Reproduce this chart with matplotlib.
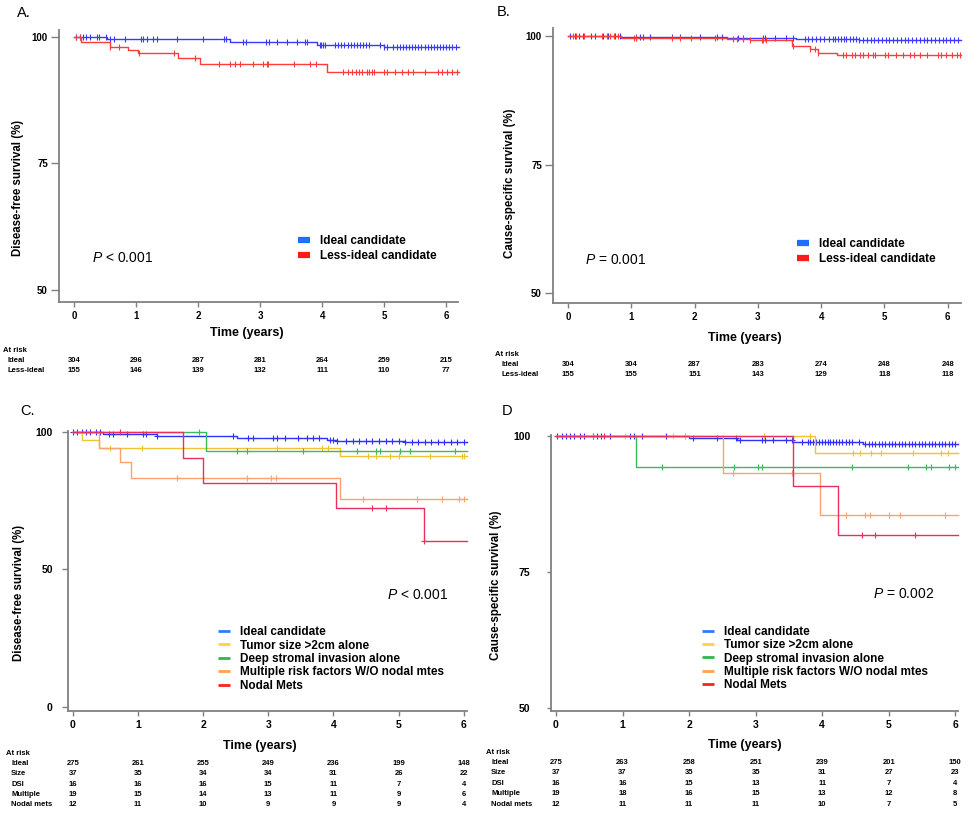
import numpy as np
import matplotlib
matplotlib.use("Agg")
import matplotlib.pyplot as plt
import matplotlib.transforms as mtransforms
from matplotlib.lines import Line2D

plt.rcParams['font.family'] = ['Liberation Sans', 'DejaVu Sans']
plt.rcParams['font.weight'] = 'bold'
plt.rcParams['axes.labelweight'] = 'bold'
plt.rcParams['mathtext.fontset'] = 'custom'
plt.rcParams['mathtext.it'] = 'Liberation Sans:italic:weight=normal'
plt.rcParams['mathtext.rm'] = 'Liberation Sans:weight=normal'

# ---------------- Panel A: disease-free survival, 2 groups ----------------
a_ideal_t = [0, 0.53, 2.52, 3.91, 4.99, 6.2]
a_ideal_s = [100, 99.6, 99.0, 98.5, 98.1, 98.1]
a_ideal_cens = [0.03, 0.1, 0.14, 0.19, 0.25, 0.37, 0.4, 0.52, 0.58, 0.65, 0.82, 1.08, 1.11,
                1.18, 1.27, 1.33, 1.66, 2.08, 2.42, 2.45, 2.72, 2.78, 3.1, 3.14, 3.27, 3.43,
                3.59, 3.72, 3.76, 3.96, 3.98, 4.01, 4.05, 4.21, 4.26, 4.31, 4.36, 4.41, 4.46,
                4.51, 4.56, 4.61, 4.66, 4.71, 4.76, 4.94, 4.99, 5.04, 5.15, 5.2, 5.25, 5.3,
                5.35, 5.4, 5.45, 5.5, 5.55, 5.6, 5.65, 5.7, 5.75, 5.8, 5.85, 5.9, 5.95, 6.0,
                6.05, 6.1, 6.15]
a_less_t = [0, 0.12, 0.58, 0.87, 1.03, 1.68, 2.03, 4.08, 6.2]
a_less_s = [100, 99.0, 98.1, 97.4, 96.8, 95.8, 94.6, 93.0, 93.0]
a_less_cens = [0.04, 0.1, 0.58, 0.72, 1.05, 1.61, 1.95, 2.33, 2.52, 2.6, 2.67, 2.88, 3.04,
               3.11, 3.13, 3.54, 3.81, 3.9, 4.34, 4.42, 4.48, 4.54, 4.6, 4.65, 4.72, 4.75,
               4.8, 4.83, 4.99, 5.04, 5.18, 5.28, 5.39, 5.47, 5.65, 5.86, 5.93, 6.01, 6.09,
               6.17]

# ---------------- Panel B: cause-specific survival, 2 groups ----------------
b_ideal_t = [0, 0.84, 2.52, 3.6, 4.6, 6.21]
b_ideal_s = [100, 99.85, 99.6, 99.4, 99.2, 99.2]
b_ideal_cens = [0.03, 0.11, 0.18, 0.24, 0.37, 0.42, 0.55, 0.63, 0.74, 0.82, 1.08, 1.13,
                1.19, 1.29, 1.65, 1.77, 2.08, 2.35, 2.44, 2.69, 2.77, 3.08, 3.12, 3.27,
                3.45, 3.56, 3.75, 3.8, 3.86, 3.92, 3.98, 4.05, 4.12, 4.18, 4.22, 4.27,
                4.31, 4.36, 4.4, 4.45, 4.5, 4.55, 4.6, 4.66, 4.72, 4.78, 4.84, 4.9, 4.96,
                5.02, 5.08, 5.14, 5.2, 5.26, 5.32, 5.38, 5.44, 5.5, 5.56, 5.62, 5.68,
                5.74, 5.8, 5.86, 5.92, 5.98, 6.04, 6.1, 6.16]
b_less_t = [0, 0.84, 2.52, 2.87, 3.54, 3.82, 3.95, 4.25, 6.21]
b_less_s = [100, 99.75, 99.4, 99.2, 98.05, 97.6, 96.8, 96.25, 96.25]
b_less_cens = [0.08, 0.13, 0.26, 0.53, 0.61, 0.66, 0.72, 0.79, 1.04, 1.08, 1.64, 1.77,
               1.95, 2.32, 2.61, 2.67, 2.77, 2.87, 3.06, 3.08, 3.13, 3.56, 3.82, 3.9,
               3.95, 4.35, 4.4, 4.48, 4.53, 4.61, 4.66, 4.74, 4.82, 4.85, 5.01, 5.06,
               5.19, 5.3, 5.4, 5.46, 5.56, 5.67, 5.85, 5.9, 5.98, 6.06, 6.14, 6.19]

# ---------------- Panel C: disease-free survival, 5 groups ----------------
c_ideal_t = [0, 0.47, 1.29, 2.52, 3.9, 4.05, 5.1, 6.05]
c_ideal_s = [100, 99.3, 98.7, 98.0, 97.3, 96.7, 96.4, 96.4]
c_ideal_cens = [0.0, 0.07, 0.14, 0.2, 0.27, 0.36, 0.42, 0.55, 0.62, 0.83, 1.08, 1.13, 1.29,
                2.46, 2.69, 2.77, 3.08, 3.13, 3.26, 3.46, 3.59, 3.69, 3.78, 3.95, 4.0,
                4.05, 4.2, 4.3, 4.4, 4.5, 4.6, 4.7, 4.8, 4.9, 5.0, 5.1, 5.2, 5.3, 5.4,
                5.5, 5.6, 5.7, 5.8, 5.9, 6.0]
c_size_t = [0, 0.14, 0.41, 4.1, 6.05]
c_size_s = [100, 97.2, 94.4, 91.3, 91.3]
c_size_cens = [0.57, 1.06, 3.13, 3.82, 3.92, 4.53, 4.66, 4.87, 5.0, 5.48, 5.97, 6.0]
c_dsi_t = [0, 2.04, 6.05]
c_dsi_s = [100, 93.2, 93.2]
c_dsi_cens = [1.94, 2.52, 2.67, 3.54, 4.36, 4.66, 4.72, 5.02, 5.18, 5.86]
c_mult_t = [0, 0.41, 0.73, 0.89, 4.1, 6.05]
c_mult_s = [100, 94.4, 89.1, 83.5, 75.8, 75.8]
c_mult_cens = [1.6, 2.68, 3.05, 3.12, 4.46, 5.29, 5.66, 5.92, 6.0]
c_nodal_t = [0, 1.69, 2.0, 4.04, 5.39, 6.05]
c_nodal_s = [100, 90.7, 81.6, 72.5, 60.4, 60.4]
c_nodal_cens = [0.73, 4.6, 4.81, 5.39]

# ---------------- Panel D: cause-specific survival, 5 groups ----------------
d_ideal_t = [0, 2.0, 2.72, 3.56, 4.61, 6.04]
d_ideal_s = [100, 99.6, 99.2, 98.9, 98.5, 98.5]
d_ideal_cens = [0.02, 0.09, 0.15, 0.21, 0.27, 0.36, 0.42, 0.55, 0.61, 0.67, 0.81, 1.11,
                1.17, 1.29, 1.66, 2.06, 2.42, 2.71, 2.77, 3.1, 3.14, 3.26, 3.46, 3.54,
                3.7, 3.78, 3.82, 3.86, 3.9, 3.95, 4.0, 4.04, 4.08, 4.12, 4.16, 4.2, 4.25,
                4.3, 4.35, 4.4, 4.45, 4.55, 4.65, 4.7, 4.75, 4.8, 4.85, 4.9, 4.95, 5.0,
                5.05, 5.1, 5.15, 5.2, 5.25, 5.3, 5.35, 5.4, 5.45, 5.5, 5.55, 5.6, 5.65,
                5.7, 5.75, 5.8, 5.85, 5.9, 5.95, 6.0]
d_size_t = [0, 3.89, 6.04]
d_size_s = [100, 96.9, 96.9]
d_size_cens = [1.04, 1.76, 1.94, 3.12, 3.81, 4.46, 4.57, 4.74, 4.89, 5.36, 5.79, 5.89]
d_dsi_t = [0, 1.2, 6.04]
d_dsi_s = [100, 94.35, 94.35]
d_dsi_cens = [0.56, 1.6, 2.68, 3.04, 3.1, 4.44, 5.29, 5.56, 5.64, 5.91, 6.0]
d_mult_t = [0, 2.51, 3.97, 6.04]
d_mult_s = [100, 93.25, 85.45, 85.45]
d_mult_cens = [1.94, 2.66, 3.54, 4.35, 4.65, 4.72, 5.01, 5.17, 5.85]
d_nodal_t = [0, 3.56, 4.24, 6.04]
d_nodal_s = [100, 90.8, 81.8, 81.8]
d_nodal_cens = [0.72, 4.6, 4.8, 5.4]

# ---------------- number-at-risk tables ----------------
risk_times = [0, 1, 2, 3, 4, 5, 6]
ab_rows = ["Ideal", "Less-ideal"]
a_risk = [[304, 296, 287, 281, 264, 259, 215],
          [155, 146, 139, 132, 111, 110, 77]]
b_risk = [[304, 304, 287, 283, 274, 248, 248],
          [155, 155, 151, 143, 129, 118, 118]]
cd_rows = ["Ideal", "Size", "DSI", "Multiple", "Nodal mets"]
c_risk = [[275, 261, 255, 249, 236, 199, 148],
          [37, 35, 34, 34, 31, 26, 22],
          [16, 16, 16, 15, 11, 7, 4],
          [19, 15, 14, 13, 11, 9, 6],
          [12, 11, 10, 9, 9, 9, 4]]
d_risk = [[275, 263, 258, 251, 239, 201, 150],
          [37, 37, 35, 35, 31, 27, 23],
          [16, 16, 15, 13, 11, 7, 4],
          [19, 18, 16, 15, 13, 12, 8],
          [12, 11, 11, 11, 10, 7, 5]]

ab_labels = ["Ideal candidate", "Less-ideal candidate"]
cd_labels = ["Ideal candidate", "Tumor size >2cm alone", "Deep stromal invasion alone",
             "Multiple risk factors W/O nodal mtes", "Nodal Mets"]

ab_line_colors = ["#3a3aff", "#ff3c3c"]
ab_leg_colors = ["#1f6fff", "#ff1a1a"]
cd_line_colors = ["#3030ff", "#f0c234", "#3dba5c", "#ffa070", "#e8305a"]
cd_leg_colors = ["#2e7bff", "#ffd23f", "#2db84d", "#ffa24d", "#ff1f1f"]

W, H = 969, 813
fig = plt.figure(figsize=(W / 100, H / 100), dpi=100)


def px_box(left, top, right, bottom):
    return [left / W, 1 - bottom / H, (right - left) / W, (bottom - top) / H]


def draw_curve(ax, times, surv, cens, color, marker, ms):
    times = np.array(times)
    surv = np.array(surv)
    ax.step(times, surv, where='post', color=color, lw=1.0, clip_on=False)
    idx = np.searchsorted(times, cens, side='right') - 1
    ax.plot(cens, surv[idx], ls='none', marker=marker, color=color, ms=ms, mew=0.8,
            clip_on=False)


def style_axes(ax, xlim, ylim, yticks, tsize, ylen, ypad, ylabel):
    ax.set_xlim(*xlim)
    ax.set_ylim(*ylim)
    ax.set_xticks(risk_times)
    ax.set_yticks(yticks)
    for side in ['top', 'right']:
        ax.spines[side].set_visible(False)
    for side in ['left', 'bottom']:
        ax.spines[side].set_color('#808080')
        ax.spines[side].set_linewidth(1.3)
    ax.tick_params(axis='x', length=3.5, width=1, color='#808080', pad=3, labelsize=tsize)
    ax.tick_params(axis='y', length=ylen, width=1, color='#808080', pad=ypad, labelsize=tsize)
    ax.set_ylabel(ylabel, fontsize=8.3, fontweight='bold')
    ax.set_xlabel("Time (years)", fontsize=9, fontweight='bold')
    ax.xaxis.label.set_verticalalignment('center')
    ax.yaxis.label.set_verticalalignment('center')


def risk_table(ax, rows, data, at_x, row_x, ys):
    trans = mtransforms.blended_transform_factory(ax.transData, fig.transFigure)
    fig.text(at_x / W, 1 - ys[0] / H, "At risk", fontsize=5.5, va='center')
    for name, vals, y in zip(rows, data, ys[1:]):
        fig.text(row_x / W, 1 - y / H, name, fontsize=5.5, va='center')
        for t, v in zip(risk_times, vals):
            ax.text(t, 1 - y / H, str(v), transform=trans, fontsize=5.5, ha='center',
                    va='center')


def add_legend(ax, labels, colors, lw, left, cy, spacing):
    handles = [Line2D([0], [0], color=c, lw=lw, solid_capstyle='butt') for c in colors]
    ax.legend(handles, labels, loc='center left', bbox_to_anchor=(left / W, 1 - cy / H),
              bbox_transform=fig.transFigure, frameon=False, borderpad=0,
              borderaxespad=0, handlelength=1.05, handletextpad=0.8,
              labelspacing=spacing, prop={'weight': 'bold', 'size': 8.5})


def p_text(x, y, s):
    fig.text(x / W, 1 - y / H, s, fontsize=10, fontweight='normal', va='center')


# ---- A ----
axA = fig.add_axes(px_box(59, 30, 458, 302))
draw_curve(axA, a_ideal_t, a_ideal_s, a_ideal_cens, ab_line_colors[0], '|', 5)
draw_curve(axA, a_less_t, a_less_s, a_less_cens, ab_line_colors[1], '|', 5)
style_axes(axA, (-0.242, 6.19), (47.6, 101.4), [50, 75, 100], 7, 6, 2,
           "Disease-free survival (%)")
axA.xaxis.set_label_coords(0.471, -0.114)
axA.yaxis.set_label_coords(-0.103, 0.419)
add_legend(axA, ab_labels, ab_leg_colors, 4.5, 298, 248.5, 0.22)
p_text(92, 258, "$P$ < 0.001")
risk_table(axA, ab_rows, a_risk, 3, 8, [350, 360, 370])
fig.text(17 / W, 1 - 13 / H, "A.", fontsize=10.5, fontweight='normal', va='center')

# ---- B ----
axB = fig.add_axes(px_box(553, 28, 961, 303))
draw_curve(axB, b_ideal_t, b_ideal_s, b_ideal_cens, ab_line_colors[0], '|', 5)
draw_curve(axB, b_less_t, b_less_s, b_less_cens, ab_line_colors[1], '|', 5)
style_axes(axB, (-0.237, 6.21), (48.05, 101.6), [50, 75, 100], 7, 6, 2,
           "Cause-specific survival (%)")
axB.xaxis.set_label_coords(0.4706, -0.127)
axB.yaxis.set_label_coords(-0.105, 0.436)
add_legend(axB, ab_labels, ab_leg_colors, 4.5, 797, 251.5, 0.22)
p_text(585, 260, "$P$ = 0.001")
risk_table(axB, ab_rows, b_risk, 495, 501, [354, 364, 374])
fig.text(497 / W, 1 - 12 / H, "B.", fontsize=10.5, fontweight='normal', va='center')

# ---- C ----
axC = fig.add_axes(px_box(68, 431, 467, 711))
c_series = [(c_ideal_t, c_ideal_s, c_ideal_cens), (c_size_t, c_size_s, c_size_cens),
            (c_dsi_t, c_dsi_s, c_dsi_cens), (c_mult_t, c_mult_s, c_mult_cens),
            (c_nodal_t, c_nodal_s, c_nodal_cens)]
for (t, s, cz), col in zip(c_series, cd_line_colors):
    draw_curve(axC, t, s, cz, col, '+', 4)
style_axes(axC, (-0.072, 6.05), (-1.57, 100.47), [0, 50, 100], 7.5, 4, 7,
           "Disease-free survival (%)")
axC.xaxis.set_label_coords(0.481, -0.125)
axC.yaxis.set_label_coords(-0.124, 0.421)
add_legend(axC, cd_labels, cd_leg_colors, 2, 218, 659, 0.12)
p_text(387, 595, "$P$ < 0.001")
risk_table(axC, cd_rows, c_risk, 6, 11, [753, 763, 773, 784, 794, 804])
fig.text(20 / W, 1 - 411 / H, "C.", fontsize=10.5, fontweight='normal', va='center')

# ---- D ----
axD = fig.add_axes(px_box(551, 435, 958, 711))
d_series = [(d_ideal_t, d_ideal_s, d_ideal_cens), (d_size_t, d_size_s, d_size_cens),
            (d_dsi_t, d_dsi_s, d_dsi_cens), (d_mult_t, d_mult_s, d_mult_cens),
            (d_nodal_t, d_nodal_s, d_nodal_cens)]
for (t, s, cz), col in zip(d_series, cd_line_colors):
    draw_curve(axD, t, s, cz, col, '+', 4)
style_axes(axD, (-0.075, 6.04), (49.4, 100.18), [50, 75, 100], 7.5, 3, 12,
           "Cause-specific survival (%)")
axD.xaxis.set_label_coords(0.4767, -0.123)
axD.yaxis.set_label_coords(-0.135, 0.455)
add_legend(axD, cd_labels, cd_leg_colors, 2, 702, 658.5, 0.12)
p_text(873, 594, "$P$ = 0.002")
risk_table(axD, cd_rows, d_risk, 486, 491, [752, 762, 772, 783, 793, 804])
fig.text(502 / W, 1 - 411 / H, "D", fontsize=10.5, fontweight='normal', va='center')

fig.savefig("out.png", dpi=100)
